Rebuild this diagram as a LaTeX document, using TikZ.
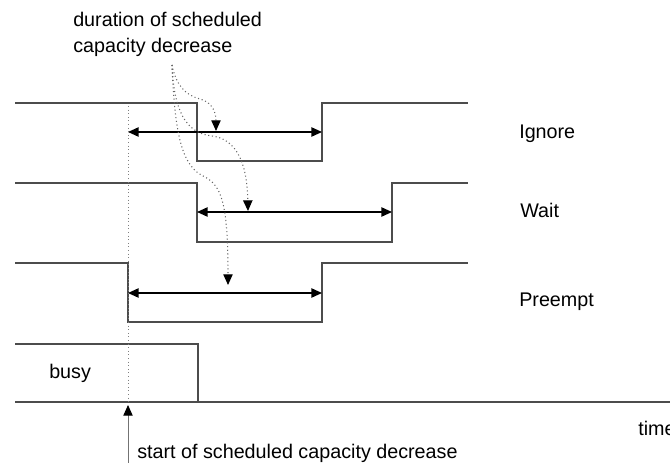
\documentclass[tikz,border=0pt]{standalone}
\usepackage{fontspec}
\setmainfont{Liberation Sans}
\usetikzlibrary{arrows.meta}

\begin{document}
\begin{tikzpicture}[x=0.75pt, y=-0.75pt, font=\fontsize{14.8}{19.5}\selectfont,
    signal/.style={line width=1.1pt, draw=black!70},
    span/.style={line width=1.1pt, {Triangle[length=8pt,width=7pt]}-{Triangle[length=8pt,width=7pt]}},
    pointer/.style={dotted, draw=black!60, line width=0.8pt, -{Triangle[length=8pt,width=7pt,color=black]}},
    lbl/.style={anchor=base west, inner sep=0pt}]
    \useasboundingbox (0,0) rectangle (670,463);

    % Ignore
    \draw[signal] (15,103) -- (197,103) -- (197,161) -- (322,161) -- (322,103) -- (468,103);
    \coordinate (ign-l) at (128,132);
    \coordinate (ign-r) at (322,132);
    \draw[span] (ign-l) -- (ign-r);
    \node[lbl] (ignore) at (519,139) {Ignore};

    % Wait
    \draw[signal] (15,183) -- (197,183) -- (197,242) -- (392,242) -- (392,183) -- (468,183);
    \coordinate (wait-l) at (197,212);
    \coordinate (wait-r) at (392,212);
    \draw[span] (wait-l) -- (wait-r);
    \node[lbl] (wait) at (520,218) {Wait};

    % Preempt
    \draw[signal] (15,263) -- (128,263) -- (128,322) -- (322,322) -- (322,263) -- (468,263);
    \coordinate (pre-l) at (128,293);
    \coordinate (pre-r) at (322,293);
    \draw[span] (pre-l) -- (pre-r);
    \node[lbl] (preempt) at (519,306) {Preempt};

    % Busy and time axis
    \draw[signal] (15,344) -- (198,344) -- (198,402);
    \node[lbl] (busy) at (49,378) {busy};
    \draw[line width=1.8pt, draw=black!70] (15,402) -- (670,402);
    \node[lbl] (time) at (638,435) {time};

    % Start of the decrease
    \coordinate (start-top) at (128,106);
    \coordinate (start-axis) at (128,402);
    \coordinate (start-foot) at (128,463);
    \draw[dotted, draw=black!50, line width=0.7pt] (start-top) -- (start-axis);
    \draw[draw=black!55, line width=0.7pt, -{Triangle[length=8pt,width=7pt,color=black]}] (start-foot) -- (128,405);
    \node[lbl] (start) at (137,458) {start of scheduled capacity decrease};

    % Duration label with its pointers
    \node[anchor=north west, inner sep=0pt, align=left] (duration) at (73,12) {duration of scheduled\\capacity decrease};
    \coordinate (src) at (172,65);
    \coordinate (ign-pt) at (216,131);
    \coordinate (wait-pt) at (248,211);
    \coordinate (pre-pt) at (228,285);
    \draw[pointer] (src) .. controls (176,85) and (185,95) .. (200,99) .. controls (212,102) and (216,112) .. (ign-pt);
    \draw[pointer] (src) .. controls (174,110) and (185,133) .. (212,136) .. controls (235,139) and (247,160) .. (wait-pt);
    \draw[pointer] (src) .. controls (175,140) and (183,167) .. (205,177) .. controls (222,186) and (228,205) .. (pre-pt);
\end{tikzpicture}
\end{document}
